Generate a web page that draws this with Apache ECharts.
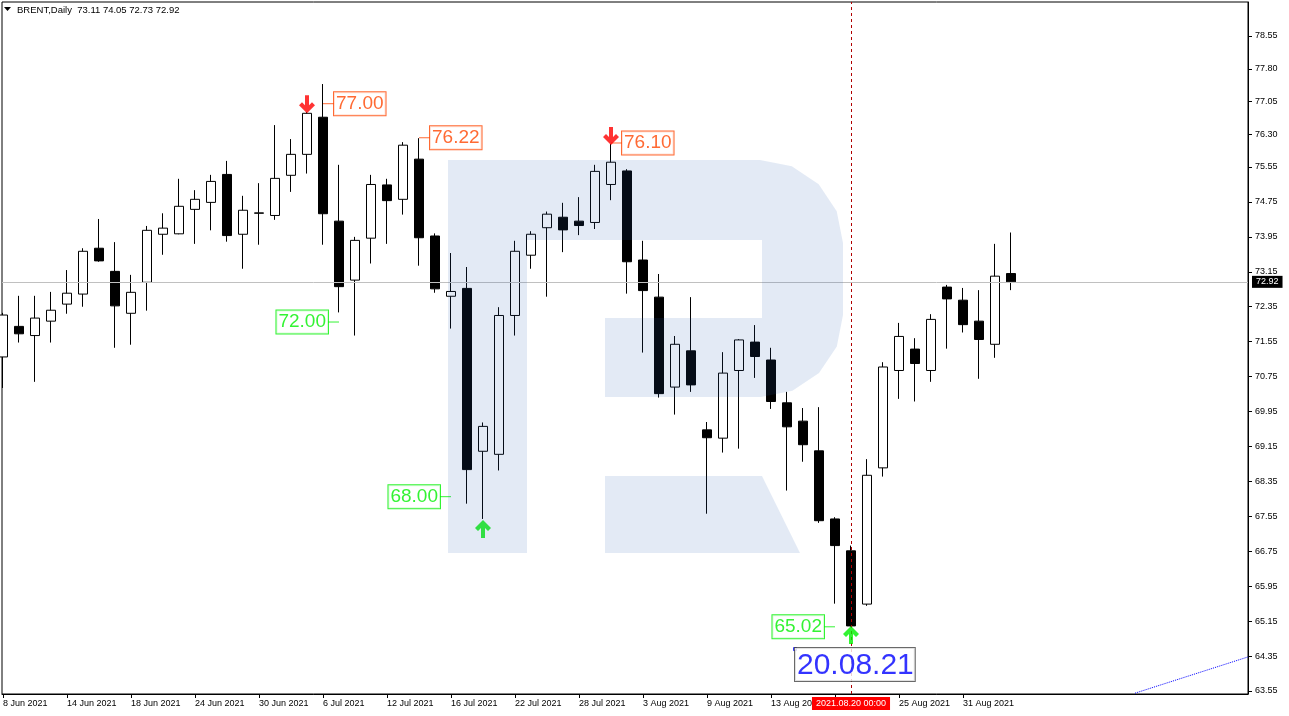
<!DOCTYPE html>
<html><head><meta charset="utf-8">
<script src="https://cdn.jsdelivr.net/npm/echarts@6/dist/echarts.min.js"></script>
<style>html,body{margin:0;padding:0;background:#fff}#c{width:1289px;height:716px}</style>
</head><body><div id="c"></div>
<script>
const dates = ['2021-06-08','2021-06-09','2021-06-10','2021-06-11','2021-06-14','2021-06-15','2021-06-16','2021-06-17','2021-06-18','2021-06-21','2021-06-22','2021-06-23','2021-06-24','2021-06-25','2021-06-28','2021-06-29','2021-06-30','2021-07-01','2021-07-02','2021-07-05','2021-07-06','2021-07-07','2021-07-08','2021-07-09','2021-07-12','2021-07-13','2021-07-14','2021-07-15','2021-07-16','2021-07-19','2021-07-20','2021-07-21','2021-07-22','2021-07-23','2021-07-26','2021-07-27','2021-07-28','2021-07-29','2021-07-30','2021-08-02','2021-08-03','2021-08-04','2021-08-05','2021-08-06','2021-08-09','2021-08-10','2021-08-11','2021-08-12','2021-08-13','2021-08-16','2021-08-17','2021-08-18','2021-08-19','2021-08-20','2021-08-23','2021-08-24','2021-08-25','2021-08-26','2021-08-27','2021-08-30','2021-08-31','2021-09-01','2021-09-02','2021-09-03'];
const opens  = [71.20,71.90,71.69,72.02,72.41,72.64,73.69,73.16,72.20,72.91,74.01,74.02,74.58,74.74,75.38,74.01,74.49,74.44,75.36,75.84,76.69,74.31,72.96,73.92,75.14,74.81,75.73,73.97,72.59,72.77,69.04,68.97,72.15,73.53,74.16,74.40,74.31,74.28,75.15,75.46,73.42,72.57,70.51,71.34,69.53,69.34,70.89,71.54,71.13,70.15,69.73,69.05,67.49,66.76,65.54,68.66,70.89,71.38,70.89,72.80,72.50,72.02,71.49,73.11];
const closes = [72.16,71.73,72.09,72.27,72.66,73.62,73.40,72.37,72.68,74.10,74.15,74.65,74.81,75.22,73.98,74.56,74.50,75.29,75.84,76.78,74.48,72.81,73.87,75.15,74.78,76.05,73.93,72.76,72.70,68.62,69.61,72.15,73.62,74.01,74.47,74.11,74.21,75.45,75.66,73.38,72.72,70.36,71.49,70.56,69.35,70.83,71.59,71.21,70.18,69.60,69.19,67.45,66.88,65.04,68.49,70.97,71.67,71.05,72.06,72.53,71.94,71.60,73.05,72.92];
const lows   = [70.49,71.53,70.63,71.53,72.19,72.35,73.38,71.41,71.48,72.26,73.54,74.01,73.79,74.10,73.84,73.22,73.77,74.34,74.98,75.40,73.77,72.22,71.69,73.34,73.79,74.46,73.29,72.67,71.85,67.84,67.49,68.60,71.69,73.22,72.58,73.60,73.99,74.13,74.79,72.65,71.30,70.27,69.88,70.40,67.61,69.01,69.10,70.72,70.01,68.14,68.80,67.40,65.55,65.02,65.50,68.46,70.24,70.18,70.63,71.39,71.76,70.70,71.18,72.73];
const highs  = [72.21,72.60,72.60,72.69,73.19,73.69,74.36,73.83,73.08,74.20,74.49,75.28,75.02,75.37,75.69,74.89,75.18,76.51,76.19,76.81,77.45,75.60,73.95,75.37,75.28,76.12,76.21,74.03,73.58,73.26,69.70,72.34,73.86,74.08,74.53,74.73,74.86,75.60,76.08,75.50,73.86,73.10,71.68,72.57,69.71,71.31,71.61,71.93,71.41,70.40,70.03,70.05,67.53,66.88,68.86,71.08,71.98,71.63,72.18,72.85,72.78,72.73,73.79,74.05];
const yTicks = [78.55,77.80,77.05,76.30,75.55,74.75,73.95,73.15,72.35,71.55,70.75,69.95,69.15,68.35,67.55,66.75,65.95,65.15,64.35,63.55];
const xTickIdx = [0,4,8,12,16,20,24,28,32,36,40,44,48,52,56,60];
const xMinIdx = -0.0625, xMaxIdx = 77.8125;
const lastPrice = 72.92;
const crossIdx = 53;
const crossText = '2021.08.20 00:00';
const labelIdx   = [20, 26, 38, 21, 28, 52];
const labelPrice = [77.00, 76.22, 76.10, 72.00, 68.00, 65.02];
const labelSide  = ['right','right','right','left','left','left'];
const arrowIdx   = [19, 38, 30, 53];
const arrowPrice = [76.99, 76.26, 67.26, 64.83];
const arrowDir   = ['down','down','up','up'];
const trendIdx   = [70.75, 77.8125];
const trendPrice = [63.50, 64.33];
const noteIdx = 49.5, notePrice = 64.51, noteText = '20.08.21';
const titleText = 'BRENT,Daily  73.11 74.05 72.73 72.92';

const FONT = "'Liberation Sans', Arial, sans-serif";
const months = ['Jan','Feb','Mar','Apr','May','Jun','Jul','Aug','Sep','Oct','Nov','Dec'];
const fmtDate = v => { const s = dates[Math.round(v)]; if (!s) return ''; const p = s.split('-'); return (+p[2]) + ' ' + months[+p[1]-1] + ' ' + p[0]; };
const RED = '#ff4500', GREEN = '#00f000';
const ARROW_DOWN = 'path://M6,0L10,0L10,10L13,7L16,10L8,18L0,10L3,7L6,10Z';
const ARROW_UP = 'path://M6,18L10,18L10,8L13,11L16,8L8,0L0,8L3,11L6,8Z';

const chart = echarts.init(document.getElementById('c'), null, {renderer: 'canvas'});
chart.setOption({
  animation: false,
  backgroundColor: '#fff',
  title: {text: titleText, left: 17, top: 5, padding: 0,
    textStyle: {fontSize: 9.5, fontWeight: 'normal', fontFamily: FONT, color: '#000'}},
  grid: {left: 2, right: 41, top: 2, bottom: 22, show: true, borderColor: '#000', borderWidth: 1, backgroundColor: '#fff'},
  xAxis: {
    type: 'value', min: xMinIdx, max: xMaxIdx,
    axisLine: {show: true, onZero: false, lineStyle: {color: '#000', width: 1}},
    axisTick: {show: true, length: 4, customValues: xTickIdx, lineStyle: {color: '#000'}},
    axisLabel: {show: true, customValues: xTickIdx, formatter: fmtDate, align: 'left', margin: 5,
      fontSize: 9, fontFamily: FONT, color: '#000'},
    splitLine: {show: false}
  },
  yAxis: {
    type: 'value', position: 'right', min: 63.481, max: 79.329,
    axisLine: {show: true, onZero: false, lineStyle: {color: '#000', width: 1}},
    axisTick: {show: true, inside: false, length: 4, customValues: yTicks, lineStyle: {color: '#000'}},
    axisLabel: {show: true, customValues: yTicks, formatter: v => v.toFixed(2), margin: 7,
      fontSize: 9, fontFamily: FONT, color: '#000'},
    splitLine: {show: false}
  },
  series: [
    {
      type: 'candlestick', name: 'BRENT', barWidth: 10,
      encode: {x: 0, y: [1, 2, 3, 4]},
      data: dates.map((d, i) => [i, opens[i], closes[i], lows[i], highs[i]]),
      itemStyle: {color: '#fff', color0: '#000', borderColor: '#000', borderColor0: '#000', borderWidth: 1},
      markLine: {
        silent: true, symbol: ['none', 'none'], animation: false,
        data: [
          {yAxis: lastPrice, lineStyle: {color: '#c0c0c0', type: 'solid', width: 1},
            label: {show: true, position: 'end', distance: 4, formatter: lastPrice.toFixed(2), color: '#fff',
              backgroundColor: '#000', padding: [1, 4, 0, 4], fontSize: 9, lineHeight: 11, fontFamily: FONT}},
          {xAxis: crossIdx, lineStyle: {color: '#b00000', type: [3, 3], width: 1},
            label: {show: true, position: 'start', distance: 3, formatter: crossText, color: '#fff',
              backgroundColor: '#ff0000', padding: [2, 4, 1, 4], fontSize: 9, lineHeight: 10, fontFamily: FONT}}
        ]
      }
    },
    {
      type: 'line', name: 'trend', silent: true, symbol: 'none',
      data: trendIdx.map((x, i) => [x, trendPrice[i]]),
      lineStyle: {color: '#0000ff', type: 'dotted', width: 1}
    },
    {
      type: 'scatter', name: 'priceLabels', silent: true, z: 5,
      data: labelIdx.map((x, i) => ({
        value: [x, labelPrice[i]],
        symbol: 'rect', symbolSize: [11, 1],
        symbolOffset: [labelSide[i] === 'right' ? 5.5 : -5.5, 0],
        itemStyle: {color: i < 3 ? RED : GREEN},
        label: {show: true, position: labelSide[i], distance: 0, formatter: labelPrice[i].toFixed(2),
          color: i < 3 ? RED : GREEN, borderColor: i < 3 ? RED : GREEN, borderWidth: 1,
          backgroundColor: '#fff', padding: [2, 2, 1, 2], fontSize: 19, lineHeight: 20, fontFamily: FONT}
      }))
    },
    {
      type: 'scatter', name: 'arrows', silent: true, z: 6,
      data: arrowIdx.map((x, i) => ({
        value: [x, arrowPrice[i]],
        symbol: arrowDir[i] === 'down' ? ARROW_DOWN : ARROW_UP,
        symbolSize: [16, 18],
        itemStyle: {color: arrowDir[i] === 'down' ? '#ff0000' : GREEN}
      }))
    },
    {
      type: 'scatter', name: 'note', silent: true, z: 6,
      data: [
        {value: [noteIdx, notePrice], symbol: 'rect', symbolSize: 3,
          itemStyle: {color: '#fff', borderColor: '#0000ff', borderWidth: 1},
          label: {show: true, position: [2, 1], formatter: noteText, color: '#0000ff',
            borderColor: '#444', borderWidth: 1, padding: [2, 1, 0, 2], fontSize: 30, lineHeight: 31,
            backgroundColor: '#fff', fontFamily: FONT}}
      ]
    }
  ],
  graphic: [
    {type: 'polygon', z: 50, silent: true,
      shape: {points: [[448,160],[760,160],[791.8,166.3],[818.7,184.3],[836.7,211.2],[843,243],[843,315],[836.8,346.4],[819,373],[792.4,390.8],[761,397],[605,397],[605,318],[762,318],[762,240],[527,240],[527,553],[448,553]]},
      style: {fill: 'rgba(40,92,180,0.13)'}},
    {type: 'polygon', z: 50, silent: true,
      shape: {points: [[605,476],[762,476],[800,553],[605,553]]},
      style: {fill: 'rgba(40,92,180,0.13)'}},
    {type: 'polygon', z: 60, silent: true, shape: {points: [[4,7],[11,7],[7.5,11]]}, style: {fill: '#000'}}
  ]
});
</script></body></html>
